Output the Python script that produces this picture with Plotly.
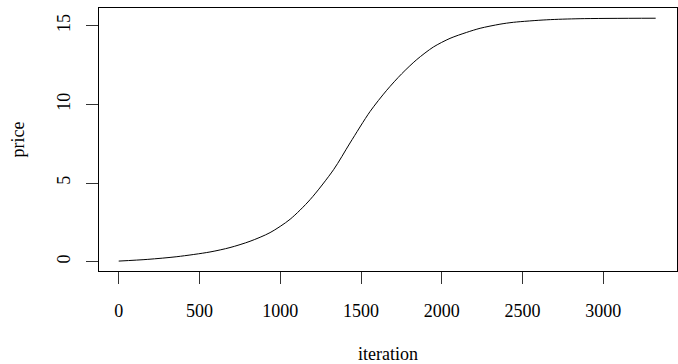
import plotly.graph_objects as go

# Price trajectory over the iterations of the simulation
iteration = [0, 180, 360, 565, 689, 813, 937, 1061, 1185, 1330, 1432, 1556, 1659,
             1752, 1845, 1948, 2051, 2154, 2237, 2360, 2443, 2650, 2856, 3324]
price = [0.04, 0.15, 0.32, 0.62, 0.9, 1.3, 1.85, 2.7, 3.95, 5.85, 7.55, 9.55, 10.9,
         11.95, 12.85, 13.65, 14.2, 14.58, 14.84, 15.1, 15.22, 15.38, 15.45, 15.48]

x_ticks = [0, 500, 1000, 1500, 2000, 2500, 3000]
y_ticks = [0, 5, 10, 15]

FONT = "Liberation Serif"

fig = go.Figure()
fig.add_trace(go.Scatter(
    x=iteration, y=price, mode="lines",
    line=dict(color="black", width=1, shape="spline", smoothing=0.8),
    hoverinfo="skip", showlegend=False,
))

axis_common = dict(
    showgrid=False, zeroline=False,
    showline=True, linecolor="black", linewidth=1, mirror=True,
    ticks="outside", ticklen=12, tickwidth=1, tickcolor="#333",
    tickfont=dict(family=FONT, size=18, color="black"),
)

fig.update_xaxes(range=[-122, 3456], tickvals=x_ticks,
                 ticktext=[str(v) for v in x_ticks],
                 ticklabelstandoff=11, **axis_common)
fig.update_yaxes(range=[-0.59, 16.13], tickvals=y_ticks,
                 ticktext=[str(v) for v in y_ticks],
                 tickangle=-90, ticklabelstandoff=9, **axis_common)

fig.add_annotation(text="iteration", xref="paper", yref="paper",
                   x=0.5, y=-83 / 263, showarrow=False,
                   font=dict(family=FONT, size=18, color="black"),
                   xanchor="center", yanchor="middle")
fig.add_annotation(text="price", xref="paper", yref="paper",
                   x=-82 / 578, y=0.5, showarrow=False, textangle=-90,
                   font=dict(family=FONT, size=18, color="black"),
                   xanchor="center", yanchor="middle")

fig.update_layout(
    width=678, height=364,
    margin=dict(l=99, r=1, t=8, b=93),
    paper_bgcolor="white", plot_bgcolor="white",
)

fig.write_html("out.html")
